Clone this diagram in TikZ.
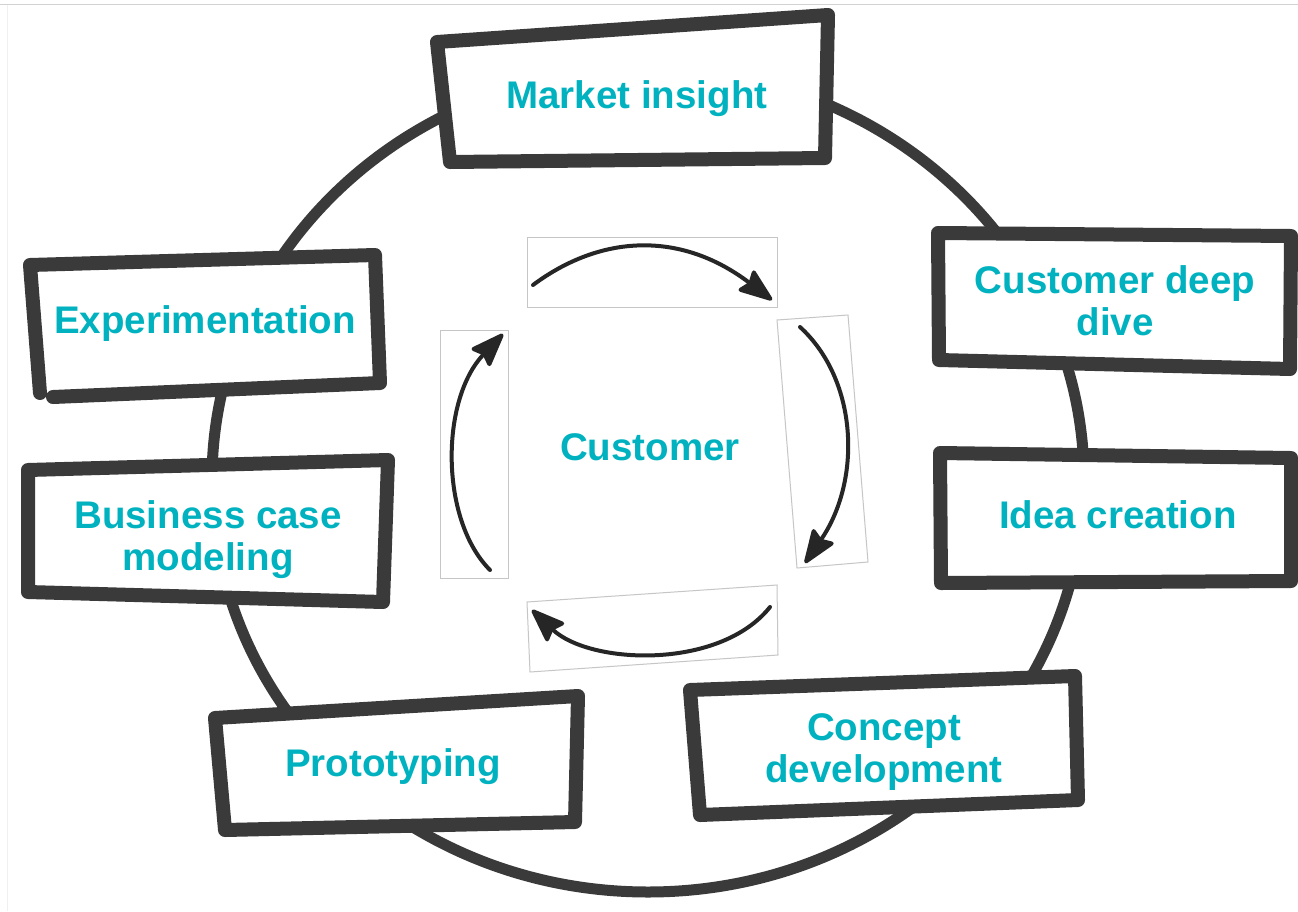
\documentclass[tikz,border=0pt]{standalone}
\usepackage{fontspec}
\setmainfont{Liberation Sans}
\usetikzlibrary{arrows.meta}
\definecolor{tealtxt}{RGB}{0,178,191}
\definecolor{ink}{RGB}{58,58,58}
\begin{document}
\begin{tikzpicture}[x=1pt,y=-1pt,
  lbl/.style={text=tealtxt,font=\fontsize{38.5}{42}\selectfont\bfseries,align=center,inner sep=0pt},
  frame/.style={draw=ink,line width=14pt,line join=round,line cap=round,fill=white},
  ring/.style={draw=ink,line width=11pt},
  arrowbox/.style={draw=gray!45,line width=1pt},
  sketcharrow/.style={draw=black!85,line width=4pt,line cap=round,-{Stealth[length=38pt,width=28pt,inset=5pt,round]}}]
\useasboundingbox (0,0) rectangle (1298,911);
\fill[white] (0,0) rectangle (1298,911);
\draw[gray!35,line width=1.5pt] (0,4.5) -- (1298,4.5);
\draw[gray!12,line width=1pt] (7,4.5) -- (7,911);
% ring
\draw[ring] (648,480) ellipse [x radius=436, y radius=412];
% frames
\draw[frame] (437,42) -- (828,15) -- (825,158) -- (450,162) -- cycle;
\draw[frame] (938,233) -- (1291,236) -- (1290,369) -- (939,360) -- cycle;
\draw[frame] (940,453) -- (1291,458) -- (1291,581) -- (941,583) -- cycle;
\draw[frame] (690,690) -- (1075,676) -- (1078,800) -- (700,815) -- cycle;
\draw[frame] (215,718) -- (578,696) -- (575,822) -- (225,830) -- cycle;
\draw[frame] (28,470) -- (388,460) -- (383,602) -- (28,592) -- cycle;
\fill[white] (30,265) -- (375,255) -- (380,383) -- (40,393) -- cycle;
\draw[frame,fill=none] (53,397) -- (380,383) -- (375,255) -- (30,265) -- (40,393);
% labels
\node[lbl] (mi) at (637,99) {Market insight};
\node[lbl] (cdd) at (1115,301) {Customer deep\\dive};
\node[lbl] (ic) at (1118,515) {Idea creation};
\node[lbl] (cd) at (884,752) {Concept\\development};
\node[lbl] (pr) at (393,767) {Prototyping};
\node[lbl] (bcm) at (208,540) {Business case\\modeling};
\node[lbl] (ex) at (205,324) {Experimentation};
\node[lbl] (cu) at (650,447) {Customer};
% arrow boxes
\draw[arrowbox] (527,237) rectangle (777,307);
\draw[arrowbox] (777,320) -- (848,315) -- (868,562) -- (797,568) -- cycle;
\draw[arrowbox] (440,330) rectangle (508,578);
\draw[arrowbox] (527,602) -- (777,585) -- (778,655) -- (530,672) -- cycle;
% arrows
\coordinate (a1s) at (533,285); \coordinate (a1e) at (772,300);
\coordinate (a2s) at (800,327); \coordinate (a2e) at (805,563);
\coordinate (a3s) at (490,570); \coordinate (a3e) at (503,334);
\coordinate (a4s) at (770,607); \coordinate (a4e) at (532,610);
\draw[sketcharrow] (a1s) .. controls (600,235) and (680,230) .. (a1e);
\draw[sketcharrow] (a2s) .. controls (858,380) and (862,480) .. (a2e);
\draw[sketcharrow] (a3s) .. controls (440,520) and (440,400) .. (a3e);
\draw[sketcharrow] (a4s) .. controls (720,670) and (590,665) .. (a4e);
\end{tikzpicture}
\end{document}
